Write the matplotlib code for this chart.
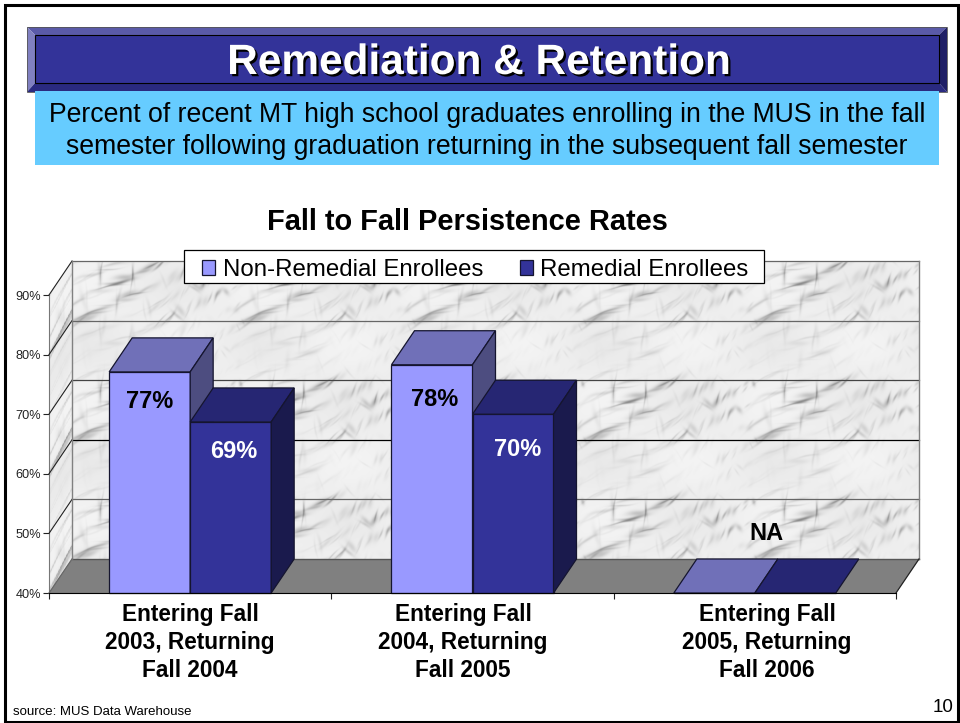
import numpy as np
import matplotlib
matplotlib.use('Agg')
import matplotlib.pyplot as plt
import matplotlib.patheffects as pe
from matplotlib.patches import Polygon, Rectangle

plt.rcParams['font.family'] = ['Liberation Sans', 'DejaVu Sans']

categories = ['Entering Fall\n2003, Returning\nFall 2004',
              'Entering Fall\n2004, Returning\nFall 2005',
              'Entering Fall\n2005, Returning\nFall 2006']
non_remedial = [77.1, 78.3, np.nan]
remedial = [68.7, 70.0, np.nan]
non_remedial_labels = ['77%', '78%', 'NA']
remedial_labels = ['69%', '70%', '']
y_ticks = [40, 50, 60, 70, 80, 90]
y_tick_labels = ['40%', '50%', '60%', '70%', '80%', '90%']
series_names = ['Non-Remedial Enrollees', 'Remedial Enrollees']
grid_colors = {50: '#666666', 60: '#000000', 70: '#444444', 80: '#666666', 90: '#666666'}

W, H = 960, 723
YMIN, YMAX = 40, 90
DX = 23 / 282.33   # depth of the 3d box, data units
DY = 34 / 5.96
BAR_W = 81 / 282.33


def marble_tile(tw=171, th=118):
    # soft diagonal strokes placed on a golden ratio sequence, the wall picture tiles
    x, y = np.meshgrid(np.arange(tw), np.arange(th))
    img = np.full((th, tw), 238.0)
    for i in range(1, 191):
        cx = (i*0.6180339 % 1)*tw
        cy = (i*0.7548777 % 1)*th
        ang = np.radians(38 + 30*np.sin(i*2.4) + (75 if i % 5 == 0 else 0))
        dx = (x - cx + tw/2) % tw - tw/2
        dy = (y - cy + th/2) % th - th/2
        along = dx*np.cos(ang) - dy*np.sin(ang)
        across = dx*np.sin(ang) + dy*np.cos(ang)
        across = across + 1.2*np.sin(along/8 + i)
        length = 3 + 11*(i*0.381966 % 1)
        width = 0.9 + 2.2*(i*0.5698 % 1)**2
        # strokes bunch up into darker patches
        patch = 0.5 + 0.5*np.sin(4*np.pi*cx/tw + 0.7)*np.sin(4*np.pi*cy/th + 1.9)
        depth = (8 + 46*(i*0.2451 % 1)**2)*(0.2 + 1.6*patch**2)
        img -= depth*np.exp(-(along/length)**2 - (across/width)**2)
    cloud = np.sin(2*np.pi*x/tw + 0.9)*np.sin(2*np.pi*y/th + 0.3)
    img += 5*cloud
    return np.clip(img, 125, 246)


def marble(w, h):
    tile = marble_tile()
    rows = np.arange(h) % tile.shape[0]
    cols = np.arange(w) % tile.shape[1]
    return tile[np.ix_(rows, cols)]


fig = plt.figure(figsize=(W/100, H/100), dpi=100, facecolor='white')

# page furniture in pixel coordinates
bg = fig.add_axes([0, 0, 1, 1], zorder=0)
bg.set_xlim(0, W)
bg.set_ylim(H, 0)
bg.axis('off')

bg.add_patch(Rectangle((4.5, 4.5), 953.5, 717, fc='white', ec='black', lw=2.2))

# banner
bg.add_patch(Polygon([(27, 27), (947, 27), (939, 35), (35, 35)], fc='#5A5AA8', ec='none'))
bg.add_patch(Polygon([(27, 27), (35, 35), (35, 83), (27, 92)], fc='#8080C0', ec='none'))
bg.add_patch(Polygon([(27, 92), (35, 83), (939, 83), (947, 92)], fc='#2A2A80', ec='none'))
bg.add_patch(Polygon([(947, 27), (939, 35), (939, 83), (947, 92)], fc='#1F1F66', ec='none'))
bg.add_patch(Rectangle((35, 35), 904, 48, fc='#333399', ec='black', lw=0.8))
bg.add_patch(Rectangle((27, 27), 920, 65, fc='none', ec='#555555', lw=0.6))
title = bg.text(479.5, 63, 'Remediation & Retention', color='white', fontsize=30.5, fontweight='bold',
                ha='center', va='center')
title.set_path_effects([pe.withSimplePatchShadow(offset=(1.6, -1.6), shadow_rgbFace='black', alpha=1)])

bg.add_patch(Rectangle((35, 91), 904, 74, fc='#66CCFF', ec='none', zorder=3))
bg.text(487, 115, 'Percent of recent MT high school graduates enrolling in the MUS in the fall',
        fontsize=19.2, ha='center', va='center', zorder=4)
bg.text(487, 147, 'semester following graduation returning in the subsequent fall semester',
        fontsize=19.2, ha='center', va='center', zorder=4)
bg.text(467.5, 222, 'Fall to Fall Persistence Rates', fontsize=20.9, fontweight='bold', ha='center', va='center')

# chart
ax = fig.add_axes([49/W, 1 - 593/H, 847/W, 298/H], zorder=1)
ax.patch.set_alpha(0)

# back wall and left wall
img = marble(847, 298)
xs = np.linspace(DX, 3 + DX, 848)
ys = np.linspace(YMAX + DY, YMIN + DY, 299)
X, Y = np.meshgrid(xs, ys)
ax.pcolormesh(X, Y, img, cmap='gray', vmin=0, vmax=255, clip_on=False, zorder=1, rasterized=True)

img2 = marble(23, 298)
t = np.linspace(0, 1, 24)
v = np.linspace(YMAX, YMIN, 299)
T, V = np.meshgrid(t, v)
ax.pcolormesh(T*DX, V + T*DY, img2, cmap='gray', vmin=0, vmax=255, clip_on=False, zorder=1)

# floor
ax.add_patch(Polygon([(0, YMIN), (3, YMIN), (3 + DX, YMIN + DY), (DX, YMIN + DY)],
                     fc='#808080', ec='none', clip_on=False, zorder=2))
ax.plot([DX, 3 + DX], [YMIN + DY, YMIN + DY], color='#555555', lw=1.0, clip_on=False, zorder=3)

# grid lines on the walls
for yt in y_ticks[1:]:
    ax.plot([DX, 3 + DX], [yt + DY, yt + DY], color=grid_colors[yt], lw=0.9, clip_on=False, zorder=3)
    ax.plot([0, DX], [yt, yt + DY], color='#222222', lw=0.8, clip_on=False, zorder=3)
ax.plot([DX, DX], [YMIN + DY, YMAX + DY], color='#808080', lw=1.0, clip_on=False, zorder=3)
ax.plot([3 + DX, 3 + DX], [YMIN + DY, YMAX + DY], color='#808080', lw=1.0, clip_on=False, zorder=3)
ax.plot([0, DX], [YMIN, YMIN + DY], color='#666666', lw=0.9, clip_on=False, zorder=3)
ax.plot([3, 3 + DX], [YMIN, YMIN + DY], color='#222222', lw=0.9, clip_on=False, zorder=3)


def bar3d(x0, val, front, top, side):
    if np.isnan(val):
        val = YMIN
    z = 5
    b = ax.bar(x0, val - YMIN, BAR_W, bottom=YMIN, align='edge', color=front,
               edgecolor='#15152F', lw=0.9, zorder=z, clip_on=False)
    x1 = x0 + BAR_W
    ax.add_patch(Polygon([(x0, val), (x1, val), (x1 + DX, val + DY), (x0 + DX, val + DY)],
                         fc=top, ec='#15152F', lw=0.9, clip_on=False, zorder=z))
    if val > YMIN:
        ax.add_patch(Polygon([(x1, YMIN), (x1, val), (x1 + DX, val + DY), (x1 + DX, YMIN + DY)],
                             fc=side, ec='#15152F', lw=0.9, clip_on=False, zorder=z))
    return b


handles = [None, None]
for i in range(len(categories)):
    x0 = i + 0.5 - BAR_W - 0.0
    handles[0] = bar3d(x0, non_remedial[i], '#9999FF', '#7070B8', '#4D4D80')
    handles[1] = bar3d(x0 + BAR_W, remedial[i], '#333399', '#262673', '#1A1A4D')

ax.set_xlim(0, 3)
ax.set_ylim(YMIN, YMAX)
ax.set_yticks(y_ticks)
ax.set_yticklabels(y_tick_labels, fontsize=9.2, color='#222222')
ax.set_xticks([0, 1, 2, 3])
ax.set_xticklabels([])
ax.tick_params(axis='y', length=4, width=0.8, pad=1.5, color='#222222')
ax.tick_params(axis='x', length=4, width=0.8, color='#222222')
for s in ['top', 'right']:
    ax.spines[s].set_visible(False)
ax.spines['left'].set_color('#777777')
ax.spines['bottom'].set_color('black')
ax.spines['bottom'].set_zorder(6)

# legend box drawn by hand, the padding is wider than it is tall
ax.add_patch(Rectangle((183.5/W, 1 - 283.5/H), 580.5/W, 33/H, transform=fig.transFigure, fc='white',
                       ec='black', lw=0.9, clip_on=False, zorder=9))
leg = ax.legend([handles[0][0], handles[1][0]], series_names, ncols=2, fontsize=17.3,
                loc='center', bbox_to_anchor=(475.5/W, 1 - 270/H), bbox_transform=fig.transFigure,
                frameon=False, handlelength=0.55, handleheight=0.55, handletextpad=0.3, columnspacing=1.54,
                borderpad=0, borderaxespad=0)
leg.set_zorder(10)

# overlay text above the chart
top = fig.add_axes([0, 0, 1, 1], zorder=2)
top.set_xlim(0, W)
top.set_ylim(H, 0)
top.axis('off')

label_xy = [(150, 402), (435, 399), (766, 533)]
for (lx, ly), s in zip(label_xy, non_remedial_labels):
    top.text(lx, ly, s, fontsize=17, fontweight='bold', ha='center', va='center')
label_xy2 = [(234, 452), (518, 450)]
for (lx, ly), s in zip(label_xy2, remedial_labels):
    top.text(lx, ly, s, fontsize=17, fontweight='bold', color='white', ha='center', va='center')

for cx, s in zip([190, 463, 767], categories):
    top.text(cx, 642.5, s, fontsize=16.25, fontweight='bold', ha='center', va='center', linespacing=1.26)

top.text(13, 712, 'source: MUS Data Warehouse', fontsize=9.5, ha='left', va='center')
top.text(943, 708, '10', fontsize=13.5, ha='center', va='center')

fig.savefig('out.png', dpi=100)
